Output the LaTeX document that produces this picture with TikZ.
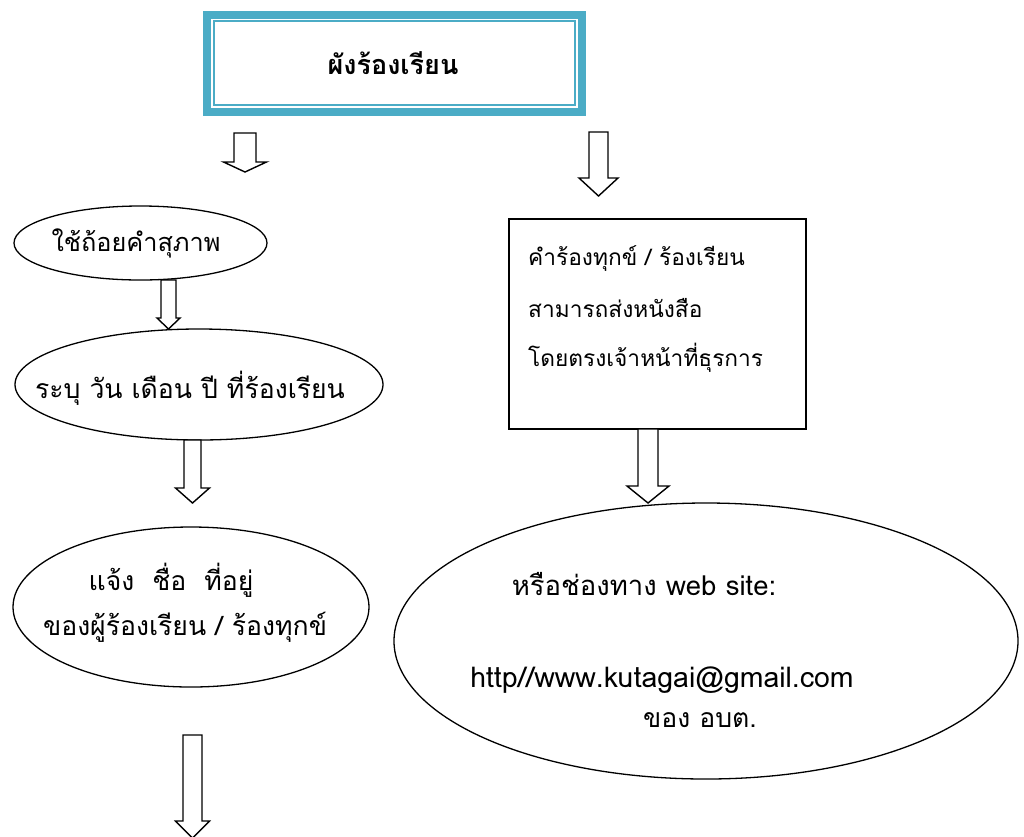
\documentclass[tikz,border=0pt]{standalone}
\usepackage{fontspec}
\usetikzlibrary{shapes.geometric}
\newfontfamily\thai[Script=Thai]{Loma}
\definecolor{teal5}{HTML}{4BACC6}
\tikzset{
  ell/.style={draw=black, line width=1.3pt, ellipse, inner sep=0pt},
  barrow/.style={draw=black, line width=1.4pt, fill=white, line join=miter},
  ltxt/.style={font=\thai\fontsize{26.6}{30}\selectfont, inner sep=0pt, anchor=center},
  wtxt/.style={font=\thai\fontsize{28}{32}\selectfont, inner sep=0pt, anchor=center},
  stxt/.style={font=\thai\fontsize{22.7}{28}\selectfont, inner sep=0pt, anchor=west},
}
\newcommand\blockarrow[6]{%
  \draw[barrow] (#1-#3,#2) -- (#1+#3,#2) -- (#1+#3,#4) -- (#1+#5,#4) -- (#1,#6) -- (#1-#5,#4) -- (#1-#3,#4) -- cycle;}
\begin{document}
\begin{tikzpicture}[x=1pt,y=-1pt]
\useasboundingbox (0,0) rectangle (1024,836);
% title box
\fill[white] (203,11) rectangle (586,116);
\draw[teal5, line width=8pt] (207,15) rectangle (582,112);
\draw[teal5, line width=2pt] (214,21) rectangle (575,105);
\node[font=\thai\bfseries\fontsize{27}{30}\selectfont, inner sep=0pt] (title) at (393,63) {ผังร้องเรียน};
% arrows from title
\blockarrow{245}{133}{11}{162}{21.5}{172}
\blockarrow{598.5}{132}{9.5}{178}{19.5}{196}
% left column
\node[ell, minimum width=253pt, minimum height=74pt] (e1) at (140.5,243) {};
\node[ltxt, font=\thai\fontsize{25.3}{30}\selectfont] (t1) at (136,243) {ใช้ถ้อยคำสุภาพ};
\blockarrow{168.5}{280}{7.5}{318}{11.5}{329}
\node[ell, minimum width=368pt, minimum height=111pt] (e2) at (199,384.5) {};
\node[ltxt] (t2) at (190,388) {ระบุ วัน เดือน ปี ที่ร้องเรียน};
\blockarrow{192.5}{440}{8.5}{488}{17}{503}
\node[ell, minimum width=356pt, minimum height=160pt] (e3) at (191,607) {};
\node[ltxt] (t3a) at (171,580) {แจ้ง\ \ ชื่อ\ \ ที่อยู่};
\node[ltxt] (t3b) at (185,627) {ของผู้ร้องเรียน / ร้องทุกข์};
\blockarrow{192.5}{735}{9.5}{821}{17}{838}
% right column
\node[draw=black, line width=1.4pt, minimum width=297pt, minimum height=210pt, inner sep=0pt] (box) at (657.5,324) {};
\node[stxt] (b1) at (528,258) {คำร้องทุกข์ / ร้องเรียน};
\node[stxt] (b2) at (528,308) {สามารถส่งหนังสือ};
\node[stxt] (b3) at (528,358) {โดยตรงเจ้าหน้าที่ธุรการ};
\blockarrow{648}{429}{10}{486}{21}{503}
\node[ell, minimum width=624pt, minimum height=276pt] (e4) at (706,641) {};
\node[wtxt, font=\thai\fontsize{27.5}{32}\selectfont] (w1) at (644,584) {หรือช่องทาง web site:};
\node[wtxt, font=\thai\fontsize{28.4}{32}\selectfont] (w2) at (662,680) {http//www.kutagai@gmail.com};
\node[ltxt] (w3) at (700,720) {ของ อบต.};
\end{tikzpicture}
\end{document}
